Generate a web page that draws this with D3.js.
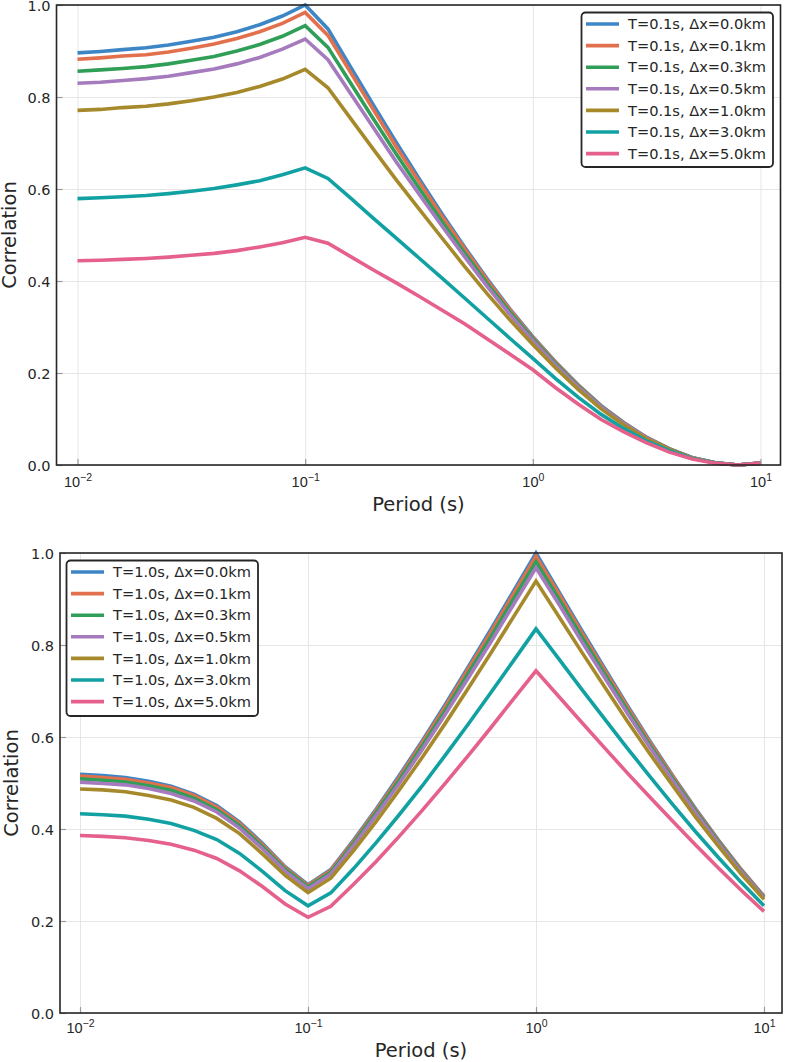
<!DOCTYPE html>
<html>
<head>
<meta charset="utf-8">
<script src="https://cdn.jsdelivr.net/npm/d3@7"></script>
<style>
  html, body { margin: 0; padding: 0; background: #fff; }
  svg { display: block; font-family: "DejaVu Sans", sans-serif; }
</style>
</head>
<body>
<svg id="chart" width="785" height="1062"></svg>
<script>
// ---------------- data ----------------
const periods = [0.01, 0.0126, 0.0158, 0.02, 0.0251, 0.0316, 0.0398, 0.0501, 0.0631, 0.0794,
  0.1, 0.1259, 0.1585, 0.1995, 0.2512, 0.3162, 0.3981, 0.5012, 0.631, 0.7943,
  1, 1.259, 1.585, 1.995, 2.512, 3.162, 3.981, 5.012, 6.31, 7.943, 10];

const dxLabels = ["0.0", "0.1", "0.3", "0.5", "1.0", "3.0", "5.0"];
const seriesColors = ["#3d86c6", "#e3704c", "#2f9f58", "#a57bbd", "#a6892a", "#12a1a3", "#e5608b"];

// Panel 1: T = 0.1 s
const t1_dx00 = [.896,.899,.903,.907,.913,.921,.930,.942,.957,.976,1.000,.948,.865,.782,.701,.623,.547,.474,.404,.339,.279,.224,.174,.129,.092,.060,.035,.016,.005,.000,.004];
const t1_dx01 = [.882,.885,.889,.892,.898,.906,.915,.927,.942,.960,.984,.934,.853,.772,.692,.616,.541,.470,.401,.337,.277,.223,.173,.128,.092,.060,.035,.016,.005,.000,.004];
const t1_dx03 = [.856,.859,.862,.866,.872,.880,.888,.900,.914,.932,.955,.908,.830,.752,.676,.602,.530,.461,.394,.332,.274,.220,.171,.127,.091,.059,.035,.016,.005,.000,.004];
const t1_dx05 = [.830,.832,.836,.840,.845,.853,.861,.872,.886,.904,.926,.881,.807,.733,.659,.589,.520,.453,.388,.327,.270,.217,.169,.126,.090,.059,.034,.016,.005,.000,.004];
const t1_dx10 = [.771,.773,.777,.780,.785,.792,.800,.810,.823,.839,.860,.820,.753,.686,.620,.557,.494,.432,.372,.315,.262,.211,.164,.122,.087,.057,.034,.015,.005,.000,.004];
const t1_dx30 = [.579,.581,.583,.586,.590,.595,.601,.609,.618,.631,.646,.623,.580,.536,.493,.450,.407,.363,.319,.275,.232,.188,.147,.110,.079,.052,.031,.014,.005,.000,.004];
const t1_dx50 = [.444,.445,.447,.449,.452,.456,.460,.466,.474,.483,.495,.482,.453,.424,.396,.367,.337,.307,.274,.241,.207,.168,.132,.099,.072,.048,.028,.013,.004,.000,.004];

// Panel 2: T = 1.0 s
const t2_dx00 = [.519,.516,.512,.504,.493,.476,.451,.415,.369,.318,.279,.312,.376,.444,.516,.591,.669,.750,.832,.916,1.000,.916,.832,.750,.669,.591,.516,.444,.376,.312,.254];
const t2_dx01 = [.515,.512,.508,.500,.490,.473,.448,.412,.366,.316,.277,.310,.373,.441,.512,.587,.664,.745,.826,.910,.993,.911,.827,.746,.666,.588,.514,.442,.375,.311,.253];
const t2_dx03 = [.509,.506,.502,.494,.484,.467,.442,.407,.362,.312,.274,.306,.369,.436,.506,.580,.656,.736,.816,.899,.981,.900,.818,.738,.659,.582,.509,.439,.372,.309,.251];
const t2_dx05 = [.502,.499,.496,.488,.477,.461,.437,.402,.357,.308,.270,.302,.364,.430,.499,.572,.648,.726,.805,.887,.968,.889,.808,.730,.652,.577,.505,.435,.369,.307,.250];
const t2_dx10 = [.487,.485,.481,.473,.463,.447,.423,.390,.346,.299,.262,.293,.353,.417,.485,.555,.628,.704,.781,.860,.939,.862,.785,.710,.635,.563,.494,.426,.363,.302,.247];
const t2_dx30 = [.433,.431,.428,.421,.412,.397,.377,.347,.308,.266,.233,.261,.314,.371,.431,.493,.559,.626,.695,.765,.835,.770,.704,.640,.576,.514,.453,.394,.338,.284,.233];
const t2_dx50 = [.386,.384,.381,.375,.367,.354,.336,.309,.275,.237,.208,.232,.280,.330,.384,.440,.498,.558,.619,.682,.744,.688,.632,.577,.522,.469,.417,.365,.315,.267,.221];

const xTickValues = [0.01, 0.1, 1, 10];
const xTickExps = ["\u22122", "\u22121", "0", "1"];
const yTickValues = [0, 0.2, 0.4, 0.6, 0.8, 1.0];

// ---------------- drawing ----------------
const svg = d3.select("#chart");

function drawPanel(cfg) {
  const g = svg.append("g");
  const x = d3.scaleLog().domain([0.01, 10]).range([cfg.x0, cfg.x1]);
  const y = d3.scaleLinear().domain([0, 1]).range([cfg.bottom, cfg.top]);

  // grid
  g.append("g").attr("transform", `translate(0,${cfg.bottom})`)
    .call(d3.axisBottom(x).tickValues(xTickValues).tickSize(-(cfg.bottom - cfg.top)).tickFormat(""))
    .call(a => a.select(".domain").remove())
    .call(a => a.selectAll("line").attr("stroke", "#e6e6e6").attr("stroke-width", 1));
  g.append("g").attr("transform", `translate(${cfg.left},0)`)
    .call(d3.axisLeft(y).tickValues(yTickValues).tickSize(-(cfg.right - cfg.left)).tickFormat(""))
    .call(a => a.select(".domain").remove())
    .call(a => a.selectAll("line").attr("stroke", "#e6e6e6").attr("stroke-width", 1));

  // lines
  const line = d3.line().x((d, i) => x(periods[i])).y(d => y(d));
  cfg.series.forEach((s, k) => {
    g.append("path").datum(s)
      .attr("fill", "none")
      .attr("stroke", seriesColors[k])
      .attr("stroke-width", 3.6)
      .attr("stroke-linejoin", "miter")
      .attr("d", line);
  });

  // ticks (inward) + labels
  const xa = g.append("g").attr("transform", `translate(0,${cfg.bottom})`)
    .call(d3.axisBottom(x).tickValues(xTickValues).tickSize(-6).tickFormat(""));
  xa.select(".domain").remove();
  xa.selectAll("line").attr("stroke", "#999").attr("stroke-width", 1.2);
  xa.selectAll(".tick").each(function(d, i) {
    const t = d3.select(this).append("text")
      .attr("y", cfg.xLabelY - cfg.bottom)
      .attr("fill", "#262626")
      .attr("font-size", 14.5)
      .attr("text-anchor", "middle");
    t.append("tspan").text("10");
    t.append("tspan").attr("font-size", 10.5).attr("dy", -6).text(xTickExps[i]);
  });

  const ya = g.append("g").attr("transform", `translate(${cfg.left},0)`)
    .call(d3.axisLeft(y).tickValues(yTickValues).tickSize(-6).tickPadding(0).tickFormat(d3.format(".1f")));
  ya.select(".domain").remove();
  ya.selectAll("line").attr("stroke", "#999").attr("stroke-width", 1.2);
  ya.selectAll("text").attr("x", -6).attr("fill", "#262626").attr("font-size", 14.5)
    .attr("font-family", "DejaVu Sans").attr("dy", "0.36em");

  // frame
  g.append("rect")
    .attr("x", cfg.left).attr("y", cfg.top)
    .attr("width", cfg.right - cfg.left).attr("height", cfg.bottom - cfg.top)
    .attr("fill", "none").attr("stroke", "#262626").attr("stroke-width", 1.6);

  // axis titles
  g.append("text")
    .attr("x", (cfg.left + cfg.right) / 2).attr("y", cfg.titleY)
    .attr("text-anchor", "middle").attr("font-size", 19.5).attr("fill", "#262626")
    .text("Period (s)");
  g.append("text")
    .attr("transform", `translate(${cfg.yTitleX},${(cfg.top + cfg.bottom) / 2}) rotate(-90)`)
    .attr("text-anchor", "middle").attr("font-size", 19.5).attr("fill", "#262626")
    .text("Correlation");

  // legend
  const lg = g.append("g");
  lg.append("rect")
    .attr("x", cfg.legX).attr("y", cfg.legY)
    .attr("width", cfg.legW).attr("height", cfg.legH)
    .attr("rx", 4).attr("ry", 4)
    .attr("fill", "#fff").attr("stroke", "#262626").attr("stroke-width", 1.8);
  dxLabels.forEach((lab, k) => {
    const yy = cfg.legY + 11.5 + k * 21.6;
    lg.append("line")
      .attr("x1", cfg.legX + 4.5).attr("x2", cfg.legX + 37.5)
      .attr("y1", yy).attr("y2", yy)
      .attr("stroke", seriesColors[k]).attr("stroke-width", 3.6);
    lg.append("text")
      .attr("x", cfg.legX + 46.5).attr("y", yy).attr("dy", "0.36em")
      .attr("font-size", 14.6).attr("fill", "#262626")
      .text(`T=${cfg.T}s, \u0394x=${lab}km`);
  });
}

drawPanel({
  left: 56.5, right: 780.5, top: 5, bottom: 465,
  x0: 77.5, x1: 760.5,
  xLabelY: 487, titleY: 511, yTitleX: 16,
  legX: 581.5, legY: 12.5, legW: 191.5, legH: 154.5,
  T: "0.1",
  series: [t1_dx00, t1_dx01, t1_dx03, t1_dx05, t1_dx10, t1_dx30, t1_dx50]
});

drawPanel({
  left: 60, right: 782, top: 553, bottom: 1013,
  x0: 80, x1: 764,
  xLabelY: 1033, titleY: 1057, yTitleX: 18,
  legX: 66.5, legY: 560.5, legW: 191.5, legH: 155.5,
  T: "1.0",
  series: [t2_dx00, t2_dx01, t2_dx03, t2_dx05, t2_dx10, t2_dx30, t2_dx50]
});
</script>
</body>
</html>
